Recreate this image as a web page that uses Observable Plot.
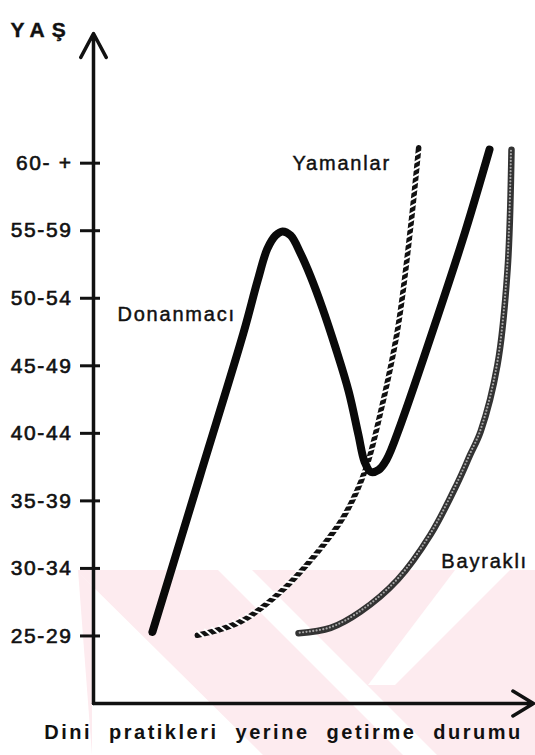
<!DOCTYPE html>
<html>
<head>
<meta charset="utf-8">
<script src="https://cdn.jsdelivr.net/npm/d3@7"></script>
<script src="https://cdn.jsdelivr.net/npm/@observablehq/plot@0.6"></script>
<style>
html, body { margin: 0; padding: 0; background: #fff; }
#wrap { position: relative; width: 535px; height: 755px; overflow: hidden; }
#wm { position: absolute; left: 0; top: 0; width: 535px; height: 755px; }
#chart { position: absolute; left: 0; top: 0; }
svg text { font-family: "Liberation Sans", Arial, sans-serif; }
</style>
</head>
<body>
<div id="wrap">
  <svg id="wm" width="535" height="755" aria-hidden="true">
    <polygon points="78,570 535,570 535,755 92,755" fill="#fdebef"/>
    <polygon points="78,572 263,755 92,755 92,586" fill="#ffffff"/>
    <polygon points="218,570 252,570 437,755 403,755" fill="#ffffff"/>
    <polygon points="455,570 510,570 395,685 368,685" fill="#ffffff"/>
  </svg>
  <div id="chart"></div>
</div>
<script>
// Age groups (y axis categories, bottom to top)
const ageLabels = ["25-29", "30-34", "35-39", "40-44", "45-49", "50-54", "55-59", "60- +"];
const ageValues = [0, 1, 2, 3, 4, 5, 6, 7];
const yTitle = "YAŞ";
const xTitle = "Dini pratikleri yerine getirme durumu";

// Donanmacı curve (x: practice level 0-100, y: age group index)
const donanmaciX = [13.4, 24.3, 34.1, 37.3, 39.5, 41.4, 42.95, 44.8, 47.0, 49.3, 52.0, 55.0, 58.0, 60.2, 61.6, 63.0, 64.8, 66.6, 69.8, 78.2, 84.5, 90.0];
const donanmaciY = [0.06, 2.39, 4.49, 5.26, 5.73, 5.93, 5.99, 5.93, 5.67, 5.33, 4.86, 4.27, 3.62, 2.98, 2.58, 2.43, 2.46, 2.61, 3.13, 4.73, 5.99, 7.20];

// Yamanlar curve
const yamanlarX = [23.6, 33.4, 42.5, 50.9, 56.8, 61.8, 65.2, 69.1, 72.0, 73.9];
const yamanlarY = [0.01, 0.21, 0.65, 1.24, 1.76, 2.46, 3.30, 4.53, 6.01, 7.23];

// Bayraklı curve
const bayrakliX = [46.6, 53.9, 60.7, 69.1, 76.6, 82.7, 85.6, 88.0, 91.8, 94.1, 95.0];
const bayrakliY = [0.04, 0.12, 0.36, 0.83, 1.50, 2.26, 2.68, 3.03, 4.01, 5.42, 7.20];

// Curve labels
const labelNames = ["Donanmacı", "Yamanlar", "Bayraklı"];
const labelX = [18.9, 56.4, 88.9];
const labelY = [4.76, 6.99, 1.10];

// Axis extents
const xMin = 0, xMax = 100, yMin = -1, yMax = 8.92;

const toPts = (xs, ys) => xs.map((x, i) => ({x, y: ys[i]}));
const donanmaci = toPts(donanmaciX, donanmaciY);
const yamanlar = toPts(yamanlarX, yamanlarY);
const bayrakli = toPts(bayrakliX, bayrakliY);
const labels = labelNames.map((t, i) => ({t, x: labelX[i], y: labelY[i]}));

const chart = Plot.plot({
  width: 535,
  height: 755,
  marginTop: 33,
  marginBottom: 52,
  marginLeft: 93,
  marginRight: 2,
  style: {background: "transparent", overflow: "visible"},
  x: {domain: [xMin, xMax], axis: null},
  y: {domain: [yMin, yMax], axis: null},
  marks: [
    Plot.line(bayrakli, {x: "x", y: "y", curve: "catmull-rom", stroke: "#333", strokeWidth: 6.5, strokeLinecap: "round"}),
    Plot.line(yamanlar, {x: "x", y: "y", curve: "catmull-rom", stroke: "#111", strokeWidth: 5.5}),
    Plot.line(donanmaci, {x: "x", y: "y", curve: "catmull-rom", stroke: "#0a0a0a", strokeWidth: 8, strokeLinecap: "round", strokeLinejoin: "round"}),
    // axes with arrows
    Plot.arrow([{x1: xMin, y1: yMin, x2: xMin, y2: yMax}], {x1: "x1", y1: "y1", x2: "x2", y2: "y2", stroke: "#111", strokeWidth: 3.5, headLength: 11.6, headAngle: 56}),
    Plot.arrow([{x1: xMin, y1: yMin, x2: xMax, y2: yMin}], {x1: "x1", y1: "y1", x2: "x2", y2: "y2", stroke: "#111", strokeWidth: 3.5, headLength: 10.3, headAngle: 62}),
    Plot.axisY({ticks: ageValues, tickFormat: i => ageLabels[i], tickSize: 13, tickPadding: 8, strokeWidth: 3, stroke: "#111", fill: "#111", fontSize: 21, anchor: "left"}),
    Plot.axisY({ticks: ageValues, tickFormat: () => "", tickSize: -7, strokeWidth: 3, stroke: "#111", anchor: "left"}),
    // curve labels
    Plot.text(labels, {x: "x", y: "y", text: "t", fontSize: 20, fill: "#111"}),
    // titles
    Plot.text([yTitle], {text: d => d, frameAnchor: "top-left", dx: -83, dy: -11, textAnchor: "start", fontSize: 21, fontWeight: "bold", fill: "#111"}),
    Plot.text([xTitle], {text: d => d, frameAnchor: "bottom", dx: -30, dy: 35, fontSize: 20, fontWeight: "bold", fill: "#111"})
  ]
});
document.getElementById("chart").appendChild(chart);

// Line textures: rope hatching on Yamanlar, chain rings on Bayraklı,
// placed along the paths that Plot drew.
const NS = "http://www.w3.org/2000/svg";
const lineGroups = Array.from(chart.querySelectorAll('g[aria-label="line"]'));
function texture(group, step, draw) {
  const path = group && group.querySelector("path");
  if (!path || !path.getTotalLength) return;
  const len = path.getTotalLength();
  const deco = document.createElementNS(NS, "g");
  for (let s = step / 2; s < len; s += step) {
    const p = path.getPointAtLength(s);
    const q = path.getPointAtLength(Math.min(len, s + 0.8));
    const r = path.getPointAtLength(Math.max(0, s - 0.8));
    const ang = Math.atan2(q.y - r.y, q.x - r.x);
    draw(deco, p, ang);
  }
  group.parentNode.insertBefore(deco, group.nextSibling);
}
// Bayraklı chain: small grey rings
texture(lineGroups[0], 3.4, (g, p, a) => {
  const c = document.createElementNS(NS, "circle");
  c.setAttribute("cx", p.x); c.setAttribute("cy", p.y); c.setAttribute("r", 1.1);
  c.setAttribute("fill", "#a8a8a8");
  g.appendChild(c);
});
// Yamanlar rope: white slanted slashes
texture(lineGroups[1], 7.5, (g, p, a) => {
  const t = a + Math.PI / 3.2, L = 4.8;
  const l = document.createElementNS(NS, "line");
  l.setAttribute("x1", p.x - Math.cos(t) * L); l.setAttribute("y1", p.y - Math.sin(t) * L);
  l.setAttribute("x2", p.x + Math.cos(t) * L); l.setAttribute("y2", p.y + Math.sin(t) * L);
  l.setAttribute("stroke", "#ffffff"); l.setAttribute("stroke-width", 2);
  g.appendChild(l);
});

// typographic tuning: tracking and slight weight like the scanned original
d3.select(chart).selectAll("text").each(function () {
  const t = this.textContent;
  const s = d3.select(this);
  if (t === yTitle) {
    s.style("letter-spacing", "7px").style("stroke", "#111").style("stroke-width", "0.4px");
  } else if (t === xTitle) {
    s.style("letter-spacing", "2.5px").style("word-spacing", "9px");
  } else if (ageLabels.includes(t)) {
    s.style("letter-spacing", "1.6px").style("stroke", "#111").style("stroke-width", "0.6px");
  } else if (labelNames.includes(t)) {
    s.style("letter-spacing", "1.8px").style("stroke", "#111").style("stroke-width", "0.45px");
  }
});
</script>
</body>
</html>
